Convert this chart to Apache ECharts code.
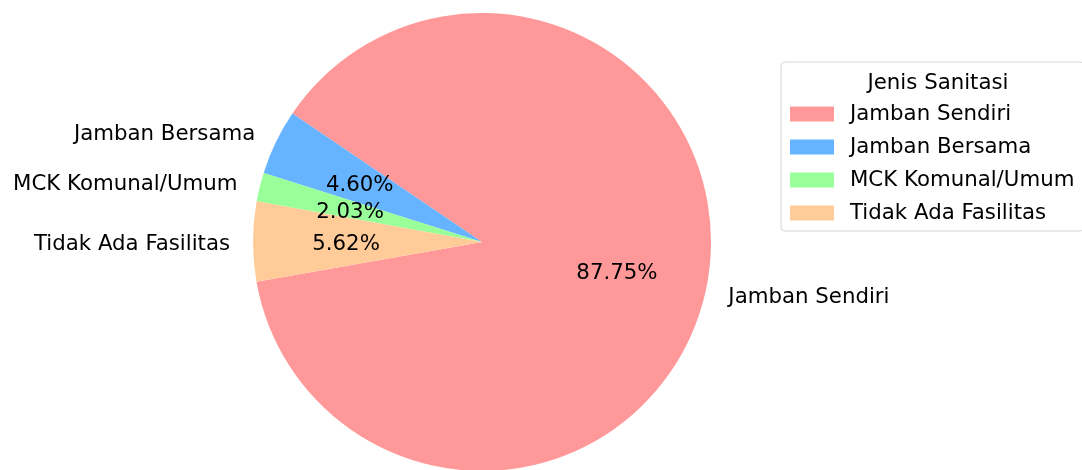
<!DOCTYPE html>
<html>
<head>
<meta charset="utf-8">
<script src="https://cdn.jsdelivr.net/npm/echarts@6/dist/echarts.min.js"></script>
<style>
  html, body { margin: 0; padding: 0; background: #ffffff; }
  #chart { width: 1082px; height: 470px; }
</style>
</head>
<body>
<div id="chart"></div>
<script>
// Sanitation type shares (percent of households)
const categories = ['Jamban Sendiri', 'Jamban Bersama', 'MCK Komunal/Umum', 'Tidak Ada Fasilitas'];
const shares = [87.75, 4.60, 2.03, 5.62];
const sliceColors = ['#ff9999', '#66b3ff', '#99ff99', '#ffcc99'];
const legendTitle = 'Jenis Sanitasi';

const FONT = 'DejaVu Sans';
const FS = 21.3;
const R = 229;
const CENTER = [482, 242];

const sliceData = categories.map((name, i) => ({
  name: name,
  value: shares[i],
  itemStyle: { color: sliceColors[i] }
}));

const chart = echarts.init(document.getElementById('chart'), null, { renderer: 'canvas' });

chart.setOption({
  animation: false,
  backgroundColor: '#ffffff',
  title: {
    text: legendTitle,
    left: 933,
    top: 67,
    textAlign: 'center',
    textStyle: { fontFamily: FONT, fontSize: FS, fontWeight: 'normal', color: '#000000', lineHeight: 22 }
  },
  legend: {
    orient: 'vertical',
    left: 781,
    top: 62,
    data: categories,
    icon: 'rect',
    itemWidth: 44,
    itemHeight: 15,
    itemGap: 9,
    padding: [40, 10, 6, 9],
    borderColor: '#d6d6d6',
    borderWidth: 1,
    borderRadius: 4,
    selectedMode: false,
    textStyle: { fontFamily: FONT, fontSize: FS, color: '#000000', lineHeight: 22, padding: [2, 0, 0, 11] }
  },
  series: [
    {
      // wedges with category names just outside the rim
      type: 'pie',
      center: CENTER,
      radius: R,
      startAngle: 190,
      clockwise: false,
      avoidLabelOverlap: false,
      silent: true,
      data: sliceData,
      label: {
        show: true,
        position: 'outside',
        formatter: '{b}',
        fontFamily: FONT,
        fontSize: FS,
        color: '#000000',
        distanceToLabelLine: 0
      },
      labelLine: { show: false, length: R * 0.1, length2: 0 },
      labelLayout: { dy: 2.5 },
      emphasis: { disabled: true }
    },
    {
      // transparent ring that carries the percentage labels near 0.6 radius
      type: 'pie',
      center: CENTER,
      radius: R * 1.17,
      startAngle: 190,
      clockwise: false,
      avoidLabelOverlap: false,
      silent: true,
      z: 3,
      data: categories.map((name, i) => ({ name: name, value: shares[i] })),
      itemStyle: { color: 'rgba(0,0,0,0)' },
      label: {
        show: true,
        position: 'inside',
        formatter: p => p.value.toFixed(2) + '%',
        fontFamily: FONT,
        fontSize: FS,
        color: '#000000'
      },
      labelLine: { show: false },
      labelLayout: { dx: 1, dy: 3 },
      emphasis: { disabled: true }
    }
  ]
});
</script>
</body>
</html>
